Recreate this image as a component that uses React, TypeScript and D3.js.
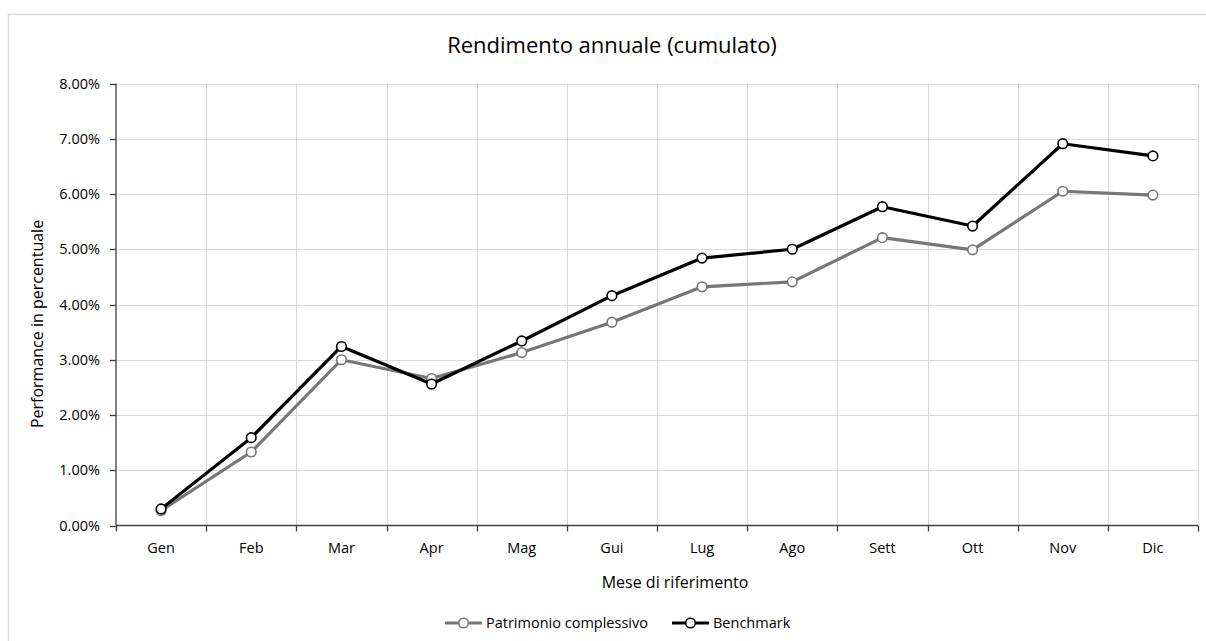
import { useEffect, useRef } from "react"
import * as d3 from "d3"

const months = ["Gen", "Feb", "Mar", "Apr", "Mag", "Gui", "Lug", "Ago", "Sett", "Ott", "Nov", "Dic"]
const patrimonio = [0.27, 1.33, 3.0, 2.66, 3.13, 3.68, 4.32, 4.41, 5.21, 4.99, 6.05, 5.98]
const benchmark = [0.3, 1.59, 3.24, 2.56, 3.34, 4.16, 4.84, 5.0, 5.77, 5.42, 6.91, 6.69]
const yTicks = [0, 1, 2, 3, 4, 5, 6, 7, 8]

const seriesList = [
  { name: "Patrimonio complessivo", values: patrimonio, color: "#767676" },
  { name: "Benchmark", values: benchmark, color: "#000000" },
]

const W = 1206
const H = 641
const FONT = "'Open Sans', sans-serif"

export default function App() {
  const svgRef = useRef<SVGSVGElement>(null)

  useEffect(() => {
    if (!svgRef.current) return
    const svg = d3.select(svgRef.current)
    svg.selectAll("*").remove()

    const left = 116, right = 1198, top = 83.5, bottom = 525.5

    const x = d3.scaleBand<string>().domain(months).range([left, right])
    const y = d3.scaleLinear().domain([0, 8]).range([bottom, top])

    // chart border
    svg.append("rect")
      .attr("x", 8.5).attr("y", 14.5)
      .attr("width", 1220).attr("height", 660)
      .attr("fill", "#fff")
      .attr("stroke", "#d9d9d9")
      .attr("stroke-width", 1.5)

    // title
    svg.append("text")
      .attr("x", 612).attr("y", 53)
      .attr("text-anchor", "middle")
      .attr("font-family", FONT).attr("font-size", 22)
      .attr("fill", "#000")
      .text("Rendimento annuale (cumulato)")

    const grid = svg.append("g").attr("stroke", "#d9d9d9").attr("stroke-width", 1)
    yTicks.filter((t) => t > 0).forEach((t) => {
      grid.append("line")
        .attr("x1", left).attr("x2", right)
        .attr("y1", Math.round(y(t)) + 0.5).attr("y2", Math.round(y(t)) + 0.5)
    })
    months.forEach((m, i) => {
      const gx = Math.round(left + x.step() * (i + 1)) + 0.5
      grid.append("line")
        .attr("x1", gx).attr("x2", gx)
        .attr("y1", top).attr("y2", bottom)
    })

    // axes
    const axis = svg.append("g").attr("stroke", "#404040").attr("stroke-width", 1.3)
    axis.append("line").attr("x1", left).attr("x2", left).attr("y1", top).attr("y2", bottom)
    axis.append("line").attr("x1", left).attr("x2", right).attr("y1", bottom).attr("y2", bottom)
    yTicks.forEach((t) => {
      const ty = Math.round(y(t)) + 0.5
      axis.append("line").attr("x1", left - 6).attr("x2", left).attr("y1", ty).attr("y2", ty)
    })
    d3.range(months.length + 1).forEach((i) => {
      const tx = Math.round(left + x.step() * i) + 0.5
      axis.append("line").attr("x1", tx).attr("x2", tx).attr("y1", bottom).attr("y2", bottom + 6)
    })

    // tick labels
    svg.append("g").selectAll("text")
      .data(yTicks)
      .enter()
      .append("text")
      .attr("x", 100)
      .attr("y", (d) => y(d) + 5)
      .attr("text-anchor", "end")
      .attr("font-family", FONT).attr("font-size", 14.5)
      .attr("fill", "#000")
      .text((d) => `${d.toFixed(2)}%`)

    svg.append("g").selectAll("text")
      .data(months)
      .enter()
      .append("text")
      .attr("x", (d) => (x(d) || 0) + x.bandwidth() / 2)
      .attr("y", 553)
      .attr("text-anchor", "middle")
      .attr("font-family", FONT).attr("font-size", 14.5)
      .attr("fill", "#000")
      .text((d) => d)

    // axis titles
    svg.append("text")
      .attr("x", 675).attr("y", 588)
      .attr("text-anchor", "middle")
      .attr("font-family", FONT).attr("font-size", 16)
      .attr("fill", "#000")
      .text("Mese di riferimento")

    svg.append("text")
      .attr("transform", "translate(43, 324) rotate(-90)")
      .attr("text-anchor", "middle")
      .attr("font-family", FONT).attr("font-size", 16)
      .attr("fill", "#000")
      .text("Performance in percentuale")

    // series
    const line = d3.line<number>()
      .x((_, i) => (x(months[i]) || 0) + x.bandwidth() / 2)
      .y((d) => y(d))

    seriesList.forEach((s) => {
      svg.append("path")
        .datum(s.values)
        .attr("d", line)
        .attr("fill", "none")
        .attr("stroke", s.color)
        .attr("stroke-width", 3.2)
        .attr("stroke-linejoin", "round")

      svg.append("g").selectAll("circle")
        .data(s.values)
        .enter()
        .append("circle")
        .attr("cx", (_, i) => (x(months[i]) || 0) + x.bandwidth() / 2)
        .attr("cy", (d) => y(d))
        .attr("r", 4.8)
        .attr("fill", "#fff")
        .attr("stroke", s.color)
        .attr("stroke-width", 1.6)
    })

    // legend
    const legendPos = [{ x: 445, tx: 486 }, { x: 672, tx: 713 }]
    seriesList.forEach((s, i) => {
      const lg = svg.append("g").attr("transform", `translate(${legendPos[i].x}, 623)`)
      lg.append("line")
        .attr("x1", 0).attr("x2", 37)
        .attr("y1", 0).attr("y2", 0)
        .attr("stroke", s.color).attr("stroke-width", 3.2)
      lg.append("circle")
        .attr("cx", 18.5).attr("cy", 0).attr("r", 4.8)
        .attr("fill", "#fff").attr("stroke", s.color).attr("stroke-width", 1.6)
      svg.append("text")
        .attr("x", legendPos[i].tx).attr("y", 628)
        .attr("font-family", FONT).attr("font-size", 14.5)
        .attr("fill", "#000")
        .text(s.name)
    })
  }, [])

  return (
    <svg
      ref={svgRef}
      width={W}
      height={H}
      style={{ position: "absolute", left: 0, top: 0, background: "#fff" }}
    />
  )
}
